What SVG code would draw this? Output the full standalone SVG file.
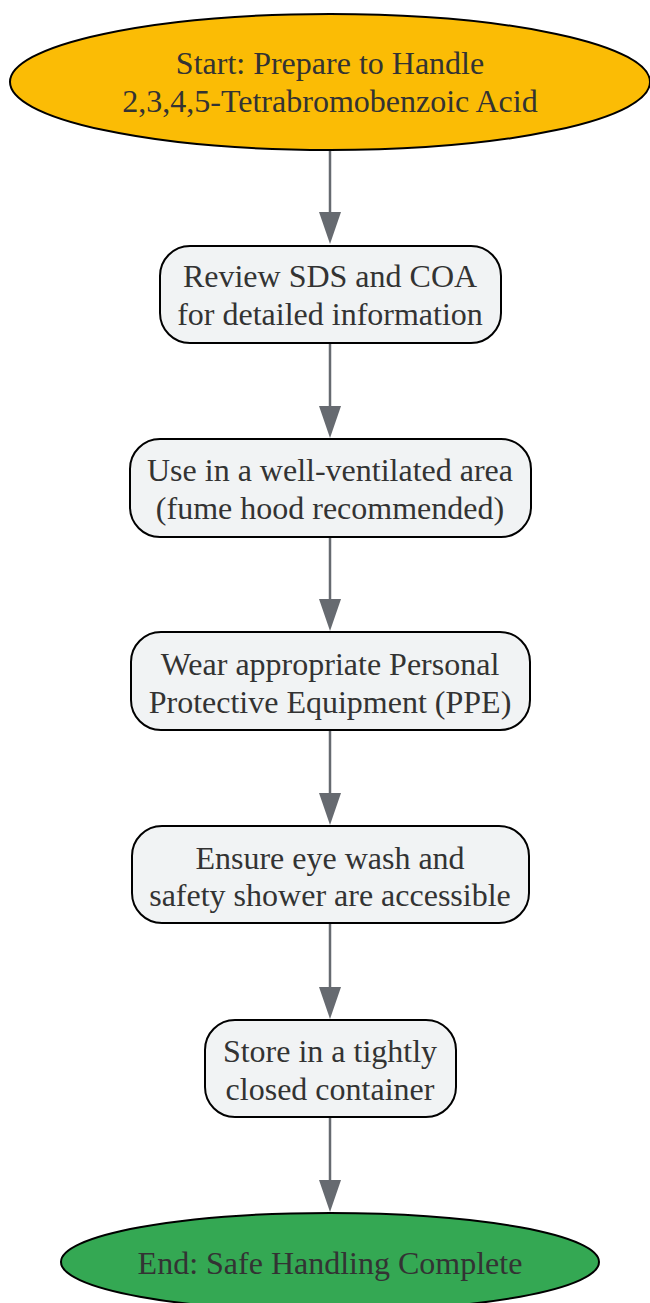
<svg xmlns="http://www.w3.org/2000/svg" width="650" height="1303" viewBox="0 0 650 1303">
<defs>
<style>
.t{font-family:"Liberation Serif","Times New Roman",serif;font-size:32px;fill:#333333;text-anchor:middle;}
.box{fill:#F1F3F4;stroke:#000;stroke-width:2;}
.e{stroke:#000;stroke-width:2;}
.c{stroke:#666a70;stroke-width:2.5;fill:none;}
.ah{fill:#666a70;}
</style>
</defs>
<rect width="650" height="1303" fill="#fff"/>
<g id="connectors">
<path class="c" d="M330,150 V212"/><path class="ah" d="M319,212 L341,212 L330,244 z"/>
<path class="c" d="M330,343 V406"/><path class="ah" d="M319,406 L341,406 L330,438 z"/>
<path class="c" d="M330,537 V599"/><path class="ah" d="M319,599 L341,599 L330,631 z"/>
<path class="c" d="M330,730 V793"/><path class="ah" d="M319,793 L341,793 L330,825 z"/>
<path class="c" d="M330,923 V987"/><path class="ah" d="M319,987 L341,987 L330,1019 z"/>
<path class="c" d="M330,1117 V1180"/><path class="ah" d="M319,1180 L341,1180 L330,1212 z"/>
</g>
<g id="start">
<ellipse class="e" cx="330" cy="82" rx="320" ry="68" fill="#FBBC05"/>
<text class="t" x="330" y="74">Start: Prepare to Handle</text>
<text class="t" x="330" y="112">2,3,4,5-Tetrabromobenzoic Acid</text>
</g>
<g id="review">
<rect class="box" x="160" y="246" width="341" height="97" rx="30"/>
<text class="t" x="330" y="287">Review SDS and COA</text>
<text class="t" x="330" y="325">for detailed information</text>
</g>
<g id="ventilate">
<rect class="box" x="130" y="439" width="401" height="98" rx="30"/>
<text class="t" x="330" y="481">Use in a well-ventilated area</text>
<text class="t" x="330" y="519">(fume hood recommended)</text>
</g>
<g id="ppe">
<rect class="box" x="131" y="632" width="399" height="98" rx="30"/>
<text class="t" x="330" y="675">Wear appropriate Personal</text>
<text class="t" x="330" y="713">Protective Equipment (PPE)</text>
</g>
<g id="eyewash">
<rect class="box" x="132" y="826" width="397" height="97" rx="30"/>
<text class="t" x="330" y="869">Ensure eye wash and</text>
<text class="t" x="330" y="906">safety shower are accessible</text>
</g>
<g id="store">
<rect class="box" x="205" y="1020" width="251" height="97" rx="30"/>
<text class="t" x="330" y="1062">Store in a tightly</text>
<text class="t" x="330" y="1100">closed container</text>
</g>
<g id="end">
<ellipse class="e" cx="330" cy="1262" rx="269" ry="49" fill="#34A853"/>
<text class="t" x="330" y="1274">End: Safe Handling Complete</text>
</g>
</svg>
